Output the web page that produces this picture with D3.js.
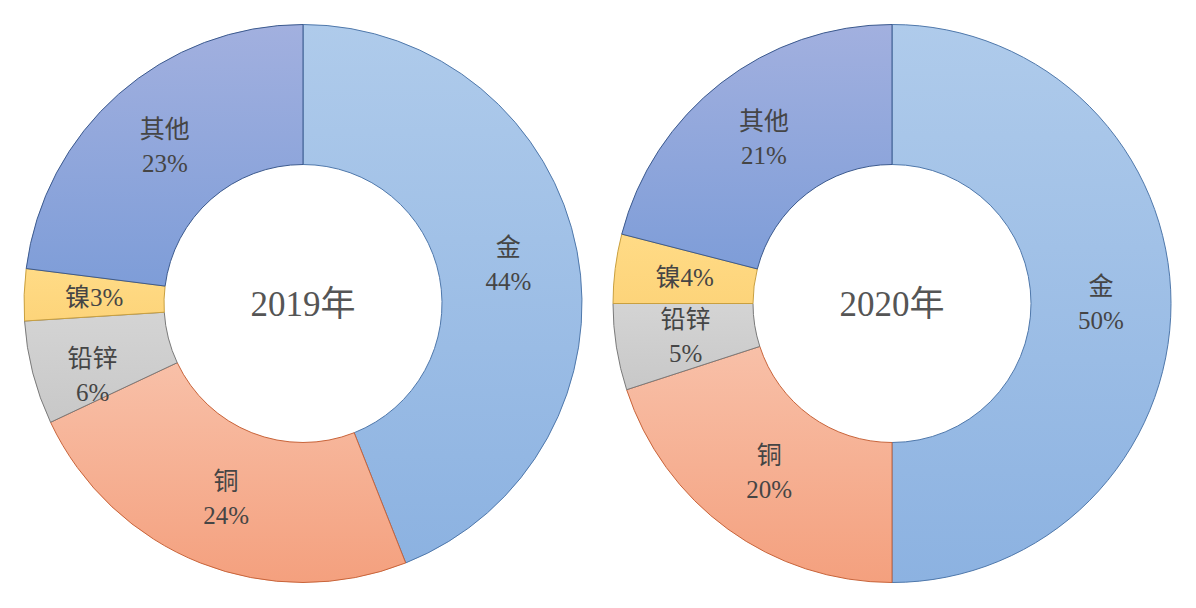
<!DOCTYPE html>
<html><head><meta charset="utf-8">
<script src="https://cdn.jsdelivr.net/npm/d3@7"></script>
<style>html,body{margin:0;padding:0;background:#fff;}svg{display:block;}</style>
</head><body>
<svg id="chart" width="1196" height="608"></svg>
<script>
// ---- data ----
const categories = ["金", "铜", "铅锌", "镍", "其他"];
const values2019 = [44, 24, 6, 3, 23];
const values2020 = [50, 20, 5, 4, 21];
const years = ["2019年", "2020年"];

// ---- styles ----
const palette = {
  "金":   {top: "#afcbeb", bot: "#8cb2e1", stroke: "#4f78ab"},
  "铜":   {top: "#f8c0a8", bot: "#f4a07e", stroke: "#c8643a"},
  "铅锌": {top: "#d4d4d4", bot: "#c8c8c8", stroke: "#7a7a7a"},
  "镍":   {top: "#ffdb86", bot: "#fdd47a", stroke: "#c9a040"},
  "其他": {top: "#a2b0df", bot: "#7e9dd8", stroke: "#3c5a8e"}
};

const svg = d3.select("#chart");
const defs = svg.append("defs");
categories.forEach((c, i) => {
  const g = defs.append("linearGradient").attr("id", "grad" + i)
    .attr("x1", 0).attr("y1", 0).attr("x2", 0).attr("y2", 1);
  g.append("stop").attr("offset", "0%").attr("stop-color", palette[c].top);
  g.append("stop").attr("offset", "100%").attr("stop-color", palette[c].bot);
});

const outerR = 279, innerR = 139;
const centers = [[303, 303.5], [892, 303.5]];
const fontFam = "'Liberation Serif','Noto Sans CJK SC',serif";

const pie = d3.pie().sort(null).value(d => d.v);
const arc = d3.arc().innerRadius(innerR).outerRadius(outerR);

[values2019, values2020].forEach((vals, k) => {
  const data = categories.map((c, i) => ({c, v: vals[i], i}));
  const arcs = pie(data);
  const g = svg.append("g").attr("transform", `translate(${centers[k][0]},${centers[k][1]})`);

  g.selectAll("path.slice").data(arcs).join("path")
    .attr("class", "slice")
    .attr("d", arc)
    .attr("fill", d => `url(#grad${d.data.i})`)
    .attr("stroke", d => palette[d.data.c].stroke)
    .attr("stroke-width", 1);

  const lab = g.selectAll("g.lab").data(arcs).join("g").attr("class", "lab")
    .attr("transform", d => {
      const [x, y] = arc.centroid(d);
      // small nudge for the narrow left-side 2019 lead-zinc label (Excel best-fit placement)
      const nudgeY = (k === 0 && d.data.c === "铅锌") ? 20 : 0;
      const nudgeX = (k === 0 && d.data.c === "铅锌") ? -8 : 0;
      return `translate(${x + nudgeX},${y + nudgeY})`;
    });

  lab.each(function(d) {
    const sel = d3.select(this);
    const pct = d.data.v + "%";
    const t = sel.append("text")
      .attr("text-anchor", "middle")
      .attr("font-family", fontFam)
      .attr("font-size", 25)
      .attr("fill", "#454545");
    if (d.data.c === "镍") {
      t.attr("dy", "0.35em").text(d.data.c + pct);
    } else {
      t.append("tspan").attr("x", 0).attr("y", -17).attr("dy", "0.35em").text(d.data.c);
      t.append("tspan").attr("x", 0).attr("y", 17).attr("dy", "0.35em").text(pct);
    }
  });

  g.append("text")
    .attr("text-anchor", "middle")
    .attr("dy", "0.35em")
    .attr("font-family", fontFam)
    .attr("font-size", 35)
    .attr("fill", "#555555")
    .text(years[k]);
});
</script>
</body></html>
